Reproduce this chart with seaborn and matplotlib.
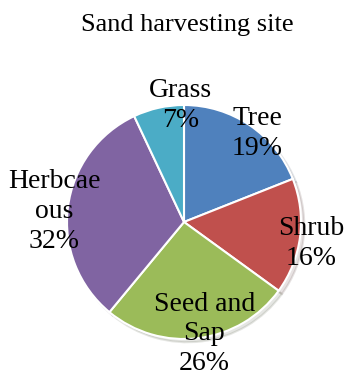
import matplotlib
matplotlib.use("Agg")
import matplotlib.pyplot as plt
import seaborn as sns

categories = ["Tree", "Shrub", "Seed and Sap", "Herbcaeous", "Grass"]
label_texts = ["Tree\n19%", "Shrub\n16%", "Seed and\nSap\n26%", "Herbcae\nous\n32%", "Grass\n7%"]
values = [19, 16, 26, 32, 7]
colors = ["#4F81BD", "#C0504D", "#9BBB59", "#8064A2", "#4BACC6"]

sns.set_theme(style="white")
plt.rcParams['font.family'] = ['Liberation Serif', 'DejaVu Serif']

fig = plt.figure(figsize=(3.44, 3.75), dpi=100)
# pie centre at (184, 222) px, radius 117 px
ax = fig.add_axes([(184 - 117) / 344, (375 - 222 - 117) / 375, 234 / 344, 234 / 375])

palette = sns.color_palette(colors)
wedges, _ = ax.pie(values, colors=palette, startangle=90, counterclock=False,
                   radius=1.0, wedgeprops=dict(edgecolor="white", linewidth=1.5),
                   shadow=dict(ox=0.02, oy=-0.02, alpha=0.12))
ax.set_xlim(-1, 1)
ax.set_ylim(-1, 1)
ax.set_aspect("auto")
ax.axis("off")

# last-line baseline positions, in units of the pie radius
label_pos = [(0.624, 0.573), (1.085, -0.368), (0.175, -1.265), (-1.107, -0.222), (-0.03, 0.812)]
for txt, (x, y) in zip(label_texts, label_pos):
    ax.text(x, y, txt, ha="center", va="baseline", fontsize=20, color="black",
            linespacing=1.25, multialignment="center")

fig.text(187.5 / 344, 1 - 31 / 375, "Sand harvesting site", ha="center", va="baseline",
         fontsize=19, color="black")

fig.savefig("out.png", dpi=100)
